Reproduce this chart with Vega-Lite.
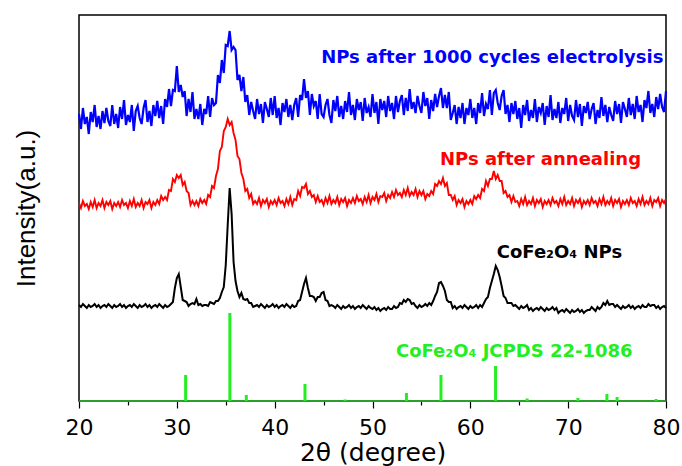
{
"$schema": "https://vega.github.io/schema/vega-lite/v6.json",
"width": 587, "height": 386,
"autosize": {"type": "none"},
"padding": {"left": 79, "top": 15, "right": 16, "bottom": 65},
"background": "white",
"config": {"view": {"stroke": "black", "strokeWidth": 1.5}},
"datasets": {
"xrd": [
{"x":20.0,"b":287,"r":198,"k":96},{"x":20.2,"b":272,"r":193,"k":94},{"x":20.4,"b":293,"r":200,"k":97},{"x":20.6,"b":277,"r":195,"k":95},{"x":20.8,"b":284,"r":197,"k":93},
{"x":21.0,"b":267,"r":192,"k":96},{"x":21.2,"b":289,"r":199,"k":94},{"x":21.4,"b":279,"r":194,"k":95},{"x":21.6,"b":296,"r":201,"k":97},{"x":21.8,"b":274,"r":193,"k":94},
{"x":22.0,"b":285,"r":198,"k":96},{"x":22.2,"b":272,"r":195,"k":93},{"x":22.4,"b":290,"r":201,"k":95},{"x":22.6,"b":278,"r":193,"k":96},{"x":22.8,"b":293,"r":199,"k":94},
{"x":23.0,"b":280,"r":196,"k":97},{"x":23.2,"b":275,"r":200,"k":95},{"x":23.4,"b":296,"r":192,"k":93},{"x":23.6,"b":277,"r":198,"k":96},{"x":23.8,"b":287,"r":195,"k":94},
{"x":24.0,"b":273,"r":199,"k":95},{"x":24.2,"b":294,"r":194,"k":97},{"x":24.4,"b":282,"r":201,"k":94},{"x":24.6,"b":301,"r":196,"k":96},{"x":24.8,"b":276,"r":198,"k":93},
{"x":25.0,"b":286,"r":193,"k":95},{"x":25.2,"b":279,"r":200,"k":96},{"x":25.4,"b":296,"r":195,"k":94},{"x":25.6,"b":270,"r":202,"k":97},{"x":25.8,"b":290,"r":194,"k":95},
{"x":26.0,"b":295,"r":198,"k":93},{"x":26.2,"b":283,"r":195,"k":96},{"x":26.4,"b":277,"r":201,"k":94},{"x":26.6,"b":293,"r":193,"k":95},{"x":26.8,"b":301,"r":199,"k":97},
{"x":27.0,"b":279,"r":197,"k":94},{"x":27.2,"b":290,"r":201,"k":96},{"x":27.4,"b":275,"r":193,"k":93},{"x":27.6,"b":296,"r":199,"k":95},{"x":27.8,"b":285,"r":196,"k":96},
{"x":28.0,"b":300,"r":201,"k":94},{"x":28.2,"b":283,"r":197,"k":97},{"x":28.4,"b":295,"r":205,"k":95},{"x":28.6,"b":277,"r":201,"k":93},{"x":28.8,"b":302,"r":204,"k":96},
{"x":29.0,"b":294,"r":201,"k":94},{"x":29.2,"b":312,"r":211,"k":95},{"x":29.4,"b":295,"r":210,"k":97},{"x":29.6,"b":311,"r":222,"k":99},{"x":29.8,"b":310,"r":219,"k":113},
{"x":30.0,"b":335,"r":226,"k":123},{"x":30.2,"b":309,"r":223,"k":127},{"x":30.4,"b":316,"r":226,"k":114},{"x":30.6,"b":304,"r":216,"k":101},{"x":30.8,"b":310,"r":219,"k":100},
{"x":31.0,"b":285,"r":210,"k":99},{"x":31.2,"b":302,"r":208,"k":95},{"x":31.4,"b":289,"r":196,"k":97},{"x":31.6,"b":309,"r":200,"k":98},{"x":31.8,"b":282,"r":196,"k":97},
{"x":32.0,"b":292,"r":200,"k":102},{"x":32.2,"b":282,"r":195,"k":96},{"x":32.4,"b":297,"r":202,"k":97},{"x":32.6,"b":276,"r":198,"k":95},{"x":32.8,"b":292,"r":201,"k":96},
{"x":33.0,"b":287,"r":197,"k":96},{"x":33.2,"b":305,"r":206,"k":95},{"x":33.4,"b":284,"r":204,"k":99},{"x":33.6,"b":303,"r":215,"k":98},{"x":33.8,"b":296,"r":213,"k":97},
{"x":34.0,"b":298,"r":225,"k":100},{"x":34.2,"b":326,"r":232,"k":100},{"x":34.4,"b":318,"r":250,"k":103},{"x":34.6,"b":341,"r":254,"k":109},{"x":34.8,"b":328,"r":270,"k":114},
{"x":35.0,"b":356,"r":274,"k":136},{"x":35.2,"b":355,"r":282,"k":176},{"x":35.4,"b":370,"r":276,"k":213},{"x":35.6,"b":351,"r":279,"k":187},{"x":35.8,"b":354,"r":268,"k":139},
{"x":36.0,"b":351,"r":261,"k":120},{"x":36.2,"b":321,"r":245,"k":110},{"x":36.4,"b":326,"r":242,"k":104},{"x":36.6,"b":310,"r":228,"k":108},{"x":36.8,"b":324,"r":222,"k":102},
{"x":37.0,"b":299,"r":210,"k":101},{"x":37.2,"b":306,"r":212,"k":102},{"x":37.4,"b":286,"r":203,"k":98},{"x":37.6,"b":299,"r":207,"k":98},{"x":37.8,"b":290,"r":197,"k":94},
{"x":38.0,"b":282,"r":200,"k":95},{"x":38.2,"b":302,"r":197,"k":96},{"x":38.4,"b":287,"r":203,"k":94},{"x":38.6,"b":297,"r":195,"k":97},{"x":38.8,"b":278,"r":201,"k":95},
{"x":39.0,"b":299,"r":198,"k":93},{"x":39.2,"b":292,"r":202,"k":96},{"x":39.4,"b":284,"r":194,"k":94},{"x":39.6,"b":303,"r":200,"k":95},{"x":39.8,"b":286,"r":197,"k":97},
{"x":40.0,"b":305,"r":201,"k":94},{"x":40.2,"b":283,"r":196,"k":96},{"x":40.4,"b":293,"r":203,"k":93},{"x":40.6,"b":276,"r":198,"k":95},{"x":40.8,"b":298,"r":200,"k":96},
{"x":41.0,"b":289,"r":195,"k":94},{"x":41.2,"b":302,"r":202,"k":97},{"x":41.4,"b":284,"r":197,"k":95},{"x":41.6,"b":296,"r":204,"k":93},{"x":41.8,"b":281,"r":196,"k":96},
{"x":42.0,"b":296,"r":202,"k":94},{"x":42.2,"b":303,"r":201,"k":95},{"x":42.4,"b":284,"r":210,"k":100},{"x":42.6,"b":306,"r":205,"k":101},{"x":42.8,"b":301,"r":214,"k":109},
{"x":43.0,"b":322,"r":213,"k":117},{"x":43.2,"b":303,"r":217,"k":123},{"x":43.4,"b":310,"r":207,"k":113},{"x":43.6,"b":286,"r":210,"k":105},{"x":43.8,"b":307,"r":204,"k":105},
{"x":44.0,"b":295,"r":206,"k":104},{"x":44.2,"b":300,"r":199,"k":100},{"x":44.4,"b":282,"r":205,"k":104},{"x":44.6,"b":307,"r":199,"k":104},{"x":44.8,"b":287,"r":201,"k":108},
{"x":45.0,"b":284,"r":196,"k":109},{"x":45.2,"b":296,"r":203,"k":101},{"x":45.4,"b":302,"r":198,"k":100},{"x":45.6,"b":286,"r":205,"k":95},{"x":45.8,"b":278,"r":197,"k":96},
{"x":46.0,"b":301,"r":201,"k":95},{"x":46.2,"b":290,"r":198,"k":93},{"x":46.4,"b":305,"r":204,"k":96},{"x":46.6,"b":284,"r":196,"k":94},{"x":46.8,"b":295,"r":202,"k":92},
{"x":47.0,"b":282,"r":199,"k":95},{"x":47.2,"b":300,"r":203,"k":93},{"x":47.4,"b":289,"r":195,"k":94},{"x":47.6,"b":309,"r":201,"k":96},{"x":47.8,"b":286,"r":198,"k":93},
{"x":48.0,"b":296,"r":203,"k":95},{"x":48.2,"b":281,"r":198,"k":92},{"x":48.4,"b":302,"r":205,"k":94},{"x":48.6,"b":291,"r":200,"k":95},{"x":48.8,"b":299,"r":202,"k":93},
{"x":49.0,"b":280,"r":197,"k":96},{"x":49.2,"b":303,"r":204,"k":94},{"x":49.4,"b":288,"r":199,"k":92},{"x":49.6,"b":294,"r":206,"k":95},{"x":49.8,"b":284,"r":198,"k":93},
{"x":50.0,"b":307,"r":204,"k":92},{"x":50.2,"b":288,"r":201,"k":94},{"x":50.4,"b":299,"r":207,"k":91},{"x":50.6,"b":277,"r":199,"k":93},{"x":50.8,"b":302,"r":205,"k":90},
{"x":51.0,"b":291,"r":204,"k":92},{"x":51.2,"b":300,"r":208,"k":93},{"x":51.4,"b":284,"r":200,"k":91},{"x":51.6,"b":305,"r":206,"k":94},{"x":51.8,"b":290,"r":203,"k":92},
{"x":52.0,"b":298,"r":209,"k":92},{"x":52.2,"b":282,"r":204,"k":95},{"x":52.4,"b":305,"r":211,"k":93},{"x":52.6,"b":289,"r":206,"k":94},{"x":52.8,"b":300,"r":208,"k":98},
{"x":53.0,"b":306,"r":204,"k":97},{"x":53.2,"b":286,"r":211,"k":101},{"x":53.4,"b":303,"r":206,"k":99},{"x":53.6,"b":290,"r":213,"k":102},{"x":53.8,"b":312,"r":205,"k":101},
{"x":54.0,"b":292,"r":209,"k":97},{"x":54.2,"b":299,"r":206,"k":98},{"x":54.4,"b":288,"r":212,"k":95},{"x":54.6,"b":305,"r":204,"k":93},{"x":54.8,"b":295,"r":210,"k":96},
{"x":55.0,"b":288,"r":206,"k":94},{"x":55.2,"b":309,"r":210,"k":95},{"x":55.4,"b":295,"r":202,"k":97},{"x":55.6,"b":303,"r":207,"k":95},{"x":55.8,"b":282,"r":205,"k":98},
{"x":56.0,"b":301,"r":210,"k":96},{"x":56.2,"b":290,"r":207,"k":100},{"x":56.4,"b":307,"r":217,"k":105},{"x":56.6,"b":294,"r":215,"k":109},{"x":56.8,"b":305,"r":220,"k":118},
{"x":57.0,"b":313,"r":217,"k":119},{"x":57.2,"b":293,"r":223,"k":115},{"x":57.4,"b":306,"r":215,"k":110},{"x":57.6,"b":293,"r":218,"k":101},{"x":57.8,"b":309,"r":206,"k":99},
{"x":58.0,"b":281,"r":206,"k":99},{"x":58.2,"b":288,"r":201,"k":93},{"x":58.4,"b":296,"r":205,"k":95},{"x":58.6,"b":277,"r":196,"k":92},{"x":58.8,"b":294,"r":201,"k":94},
{"x":59.0,"b":283,"r":198,"k":95},{"x":59.2,"b":298,"r":202,"k":93},{"x":59.4,"b":277,"r":194,"k":96},{"x":59.6,"b":293,"r":200,"k":94},{"x":59.8,"b":286,"r":197,"k":92},
{"x":60.0,"b":302,"r":201,"k":95},{"x":60.2,"b":283,"r":197,"k":93},{"x":60.4,"b":293,"r":205,"k":94},{"x":60.6,"b":277,"r":202,"k":96},{"x":60.8,"b":298,"r":206,"k":93},
{"x":61.0,"b":288,"r":203,"k":96},{"x":61.2,"b":308,"r":212,"k":94},{"x":61.4,"b":285,"r":210,"k":98},{"x":61.6,"b":297,"r":220,"k":102},{"x":61.8,"b":292,"r":215,"k":104},
{"x":62.0,"b":311,"r":222,"k":113},{"x":62.2,"b":286,"r":222,"k":120},{"x":62.4,"b":308,"r":230,"k":127},{"x":62.6,"b":311,"r":222,"k":135},{"x":62.8,"b":298,"r":226,"k":131},
{"x":63.0,"b":291,"r":220,"k":124},{"x":63.2,"b":305,"r":220,"k":115},{"x":63.4,"b":311,"r":208,"k":105},{"x":63.6,"b":287,"r":210,"k":103},{"x":63.8,"b":296,"r":204,"k":98},
{"x":64.0,"b":279,"r":206,"k":98},{"x":64.2,"b":298,"r":199,"k":98},{"x":64.4,"b":287,"r":205,"k":95},{"x":64.6,"b":300,"r":199,"k":96},{"x":64.8,"b":282,"r":200,"k":94},
{"x":65.0,"b":293,"r":195,"k":92},{"x":65.2,"b":273,"r":202,"k":95},{"x":65.4,"b":296,"r":197,"k":93},{"x":65.6,"b":286,"r":204,"k":94},{"x":65.8,"b":301,"r":196,"k":96},
{"x":66.0,"b":280,"r":200,"k":91},{"x":66.2,"b":291,"r":197,"k":93},{"x":66.4,"b":283,"r":203,"k":90},{"x":66.6,"b":302,"r":195,"k":92},{"x":66.8,"b":279,"r":201,"k":93},
{"x":67.0,"b":294,"r":198,"k":91},{"x":67.2,"b":288,"r":202,"k":94},{"x":67.4,"b":298,"r":194,"k":92},{"x":67.6,"b":276,"r":200,"k":90},{"x":67.8,"b":295,"r":197,"k":93},
{"x":68.0,"b":284,"r":201,"k":91},{"x":68.2,"b":306,"r":196,"k":92},{"x":68.4,"b":281,"r":203,"k":94},{"x":68.6,"b":292,"r":198,"k":91},{"x":68.8,"b":283,"r":200,"k":93},
{"x":69.0,"b":299,"r":195,"k":88},{"x":69.2,"b":278,"r":202,"k":90},{"x":69.4,"b":293,"r":197,"k":91},{"x":69.6,"b":287,"r":204,"k":89},{"x":69.8,"b":303,"r":196,"k":92},
{"x":70.0,"b":280,"r":200,"k":90},{"x":70.2,"b":296,"r":197,"k":88},{"x":70.4,"b":285,"r":203,"k":91},{"x":70.6,"b":281,"r":195,"k":89},{"x":70.8,"b":301,"r":201,"k":90},
{"x":71.0,"b":284,"r":198,"k":92},{"x":71.2,"b":297,"r":202,"k":89},{"x":71.4,"b":275,"r":194,"k":91},{"x":71.6,"b":295,"r":200,"k":88},{"x":71.8,"b":288,"r":197,"k":90},
{"x":72.0,"b":299,"r":201,"k":91},{"x":72.2,"b":282,"r":196,"k":91},{"x":72.4,"b":292,"r":203,"k":94},{"x":72.6,"b":298,"r":198,"k":92},{"x":72.8,"b":277,"r":200,"k":90},
{"x":73.0,"b":291,"r":195,"k":94},{"x":73.2,"b":283,"r":202,"k":92},{"x":73.4,"b":304,"r":197,"k":94},{"x":73.6,"b":285,"r":204,"k":98},{"x":73.8,"b":296,"r":196,"k":96},
{"x":74.0,"b":279,"r":200,"k":100},{"x":74.2,"b":294,"r":197,"k":96},{"x":74.4,"b":286,"r":203,"k":97},{"x":74.6,"b":280,"r":195,"k":97},{"x":74.8,"b":300,"r":201,"k":94},
{"x":75.0,"b":287,"r":198,"k":96},{"x":75.2,"b":297,"r":202,"k":94},{"x":75.4,"b":278,"r":194,"k":92},{"x":75.6,"b":299,"r":200,"k":95},{"x":75.8,"b":292,"r":197,"k":93},
{"x":76.0,"b":284,"r":201,"k":94},{"x":76.2,"b":303,"r":196,"k":96},{"x":76.4,"b":286,"r":203,"k":93},{"x":76.6,"b":297,"r":198,"k":95},{"x":76.8,"b":282,"r":200,"k":92},
{"x":77.0,"b":305,"r":195,"k":94},{"x":77.2,"b":289,"r":202,"k":95},{"x":77.4,"b":296,"r":197,"k":93},{"x":77.6,"b":279,"r":204,"k":96},{"x":77.8,"b":301,"r":196,"k":94},
{"x":78.0,"b":293,"r":200,"k":94},{"x":78.2,"b":310,"r":197,"k":97},{"x":78.4,"b":288,"r":203,"k":95},{"x":78.6,"b":297,"r":195,"k":96},{"x":78.8,"b":284,"r":201,"k":96},
{"x":79.0,"b":304,"r":199,"k":93},{"x":79.2,"b":292,"r":203,"k":95},{"x":79.4,"b":307,"r":195,"k":92},{"x":79.6,"b":294,"r":201,"k":94},{"x":79.8,"b":289,"r":198,"k":95},
{"x":80.0,"b":310,"r":202,"k":93}
],
"ref": [
{"t":30.9,"h":26},{"t":35.42,"h":88},{"t":37.1,"h":6},{"t":43.1,"h":17},{"t":47.2,"h":1.5},{"t":53.47,"h":8},{"t":57.0,"h":26},{"t":62.58,"h":35},{"t":65.8,"h":2.5},{"t":71.0,"h":3},{"t":73.96,"h":7},{"t":75.0,"h":4},{"t":78.98,"h":2}
],
"labels": [
{"t":44.75,"v":338,"label":"NPs after 1000 cycles electrolysis","series":"blue"},
{"t":56.9,"v":236,"label":"NPs after annealing","series":"red"},
{"t":62.7,"v":143,"label":"CoFe₂O₄ NPs","series":"black"},
{"t":52.4,"v":44,"label":"CoFe₂O₄ JCPDS 22-1086","series":"green"}
]
},
"layer": [
{
"data": {"values": [{"base": 0}]},
"mark": {"type": "rule", "color": "#22dd22", "strokeWidth": 2, "opacity": 0.6},
"encoding": {"y": {"field": "base", "type": "quantitative", "scale": {"domain": [0, 386], "nice": false, "zero": false}}}
},
{
"data": {"name": "ref"},
"mark": {"type": "rule", "color": "#22ee22", "strokeWidth": 3},
"encoding": {
"x": {"field": "t", "type": "quantitative"},
"y": {"field": "h", "type": "quantitative"},
"y2": {"datum": 0}
}
},
{
"data": {"name": "xrd"},
"layer": [
{"mark": {"type": "line", "color": "#000000", "strokeWidth": 2, "interpolate": "linear"},
 "encoding": {
  "x": {"field": "x", "type": "quantitative", "scale": {"domain": [20, 80], "nice": false, "zero": false},
   "axis": {"title": "2θ (degree)", "values": [20,25,30,35,40,45,50,55,60,65,70,75,80],
    "labelExpr": "datum.value % 10 === 0 ? datum.label : ''",
    "tickSize": {"condition": {"test": "datum.value % 10 === 0", "value": 7}, "value": 4},
    "tickColor": "black", "tickWidth": 1.2, "domain": false, "grid": false,
    "labelFont": "DejaVu Sans", "labelFontSize": 22, "labelColor": "black", "labelPadding": 9, "labelFlush": false, "labelOverlap": false,
    "titleFont": "DejaVu Sans", "titleFontSize": 25, "titleFontWeight": "normal", "titleColor": "black", "titlePadding": 2}},
  "y": {"field": "k", "type": "quantitative", "scale": {"domain": [0, 386], "nice": false, "zero": false},
   "axis": {"title": "Intensity(a.u.)", "labels": false, "ticks": false, "domain": false, "grid": false,
    "titleFont": "Liberation Sans", "titleFontSize": 26, "titleFontWeight": "normal", "titleColor": "black", "titlePadding": 40}}
 }},
{"mark": {"type": "line", "color": "#ff0000", "strokeWidth": 1.9},
 "encoding": {"x": {"field": "x", "type": "quantitative"}, "y": {"field": "r", "type": "quantitative"}}},
{"mark": {"type": "line", "color": "#0000ff", "strokeWidth": 2.2},
 "encoding": {"x": {"field": "x", "type": "quantitative"}, "y": {"field": "b", "type": "quantitative"}}}
]
},
{
"data": {"name": "labels"},
"mark": {"type": "text", "align": "left", "baseline": "alphabetic", "font": "DejaVu Sans", "fontSize": 18, "fontWeight": "bold"},
"encoding": {
"x": {"field": "t", "type": "quantitative"},
"y": {"field": "v", "type": "quantitative"},
"text": {"field": "label"},
"color": {"field": "series", "type": "nominal", "scale": {"domain": ["blue", "red", "black", "green"], "range": ["#0000ff", "#ff0000", "#000000", "#22ee22"]}, "legend": null}
}
}
]
}
